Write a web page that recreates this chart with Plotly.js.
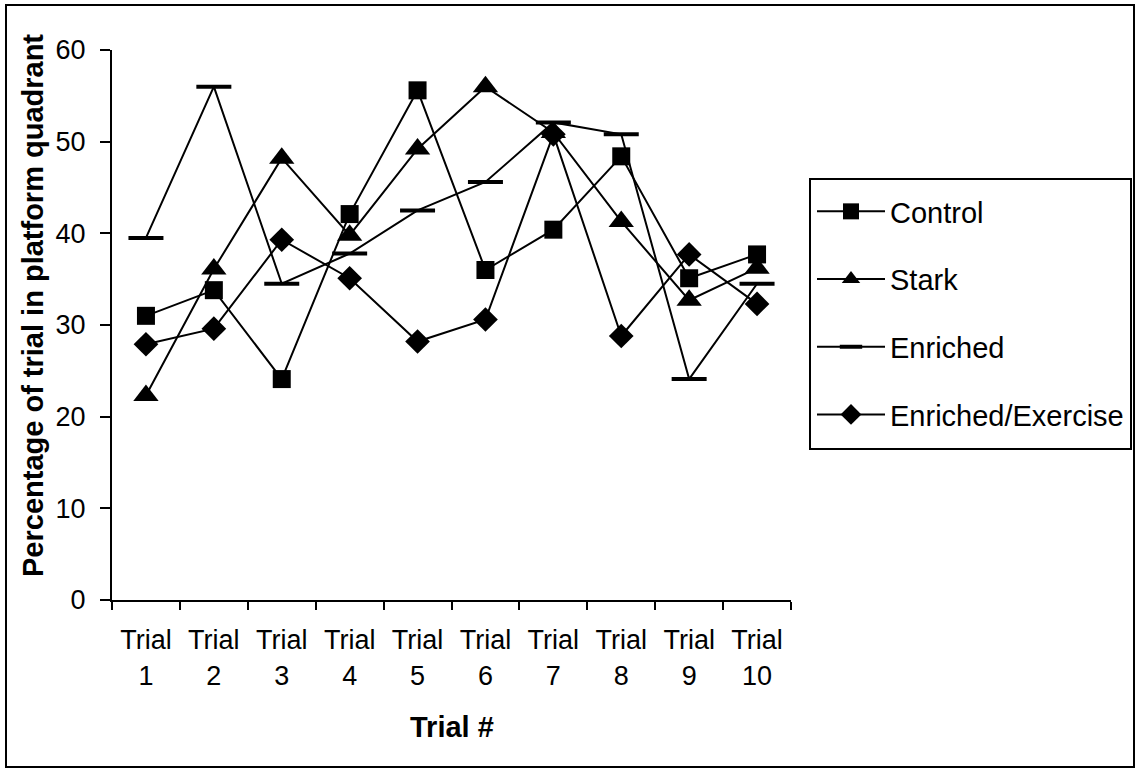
<!DOCTYPE html>
<html>
<head>
<meta charset="utf-8">
<script src="https://cdn.plot.ly/plotly-3.0.1.min.js"></script>
<style>
  html, body { margin: 0; padding: 0; background: #fff; }
  #chart { width: 1136px; height: 774px; }
</style>
</head>
<body>
<div id="chart"></div>
<script>
const categories = ["Trial 1", "Trial 2", "Trial 3", "Trial 4", "Trial 5", "Trial 6", "Trial 7", "Trial 8", "Trial 9", "Trial 10"];
const tickLabels = ["Trial<br>1", "Trial<br>2", "Trial<br>3", "Trial<br>4", "Trial<br>5", "Trial<br>6", "Trial<br>7", "Trial<br>8", "Trial<br>9", "Trial<br>10"];
const control = [31.0, 33.8, 24.1, 42.1, 55.6, 36.0, 40.4, 48.4, 35.1, 37.7];
const stark = [22.3, 36.1, 48.2, 39.8, 49.2, 56.0, 51.0, 41.3, 32.7, 36.2];
const enriched = [39.5, 56.0, 34.5, 37.8, 42.5, 45.6, 52.1, 50.8, 24.1, 34.5];
const enrichedExercise = [27.9, 29.6, 39.3, 35.1, 28.2, 30.6, 50.8, 28.8, 37.7, 32.3];
const seriesNames = ["Control", "Stark", "Enriched", "Enriched/Exercise"];
const yTicks = [0, 10, 20, 30, 40, 50, 60];

const FONT = "Arial, 'Liberation Sans', sans-serif";
const lineStyle = {color: "#000", width: 2};

const traces = [
  {name: seriesNames[0], y: control, marker: {symbol: "square", size: 18, color: "#000"}},
  {name: seriesNames[1], y: stark, marker: {symbol: "triangle-up", size: 22, color: "#000"}},
  {name: seriesNames[2], y: enriched, marker: {symbol: "line-ew", size: 25, color: "#000", line: {color: "#000", width: 4}}},
  {name: seriesNames[3], y: enrichedExercise, marker: {symbol: "diamond", size: 19, color: "#000"}}
].map((t, i) => Object.assign({
  type: "scatter",
  mode: "lines+markers",
  x: categories,
  line: lineStyle,
  legendgroup: "g" + i,
  hoverinfo: "skip"
}, t));

// plot area in pixels: x 112..791, y 50..600
const L = 112, R = 791, T = 50, B = 600;
const px2x = p => (p - L) / (R - L);
const px2y = p => (B - p) / (B - T);

const layout = {
  width: 1136,
  height: 774,
  margin: {l: L, r: 1136 - R, t: T, b: 774 - B, pad: 0},
  paper_bgcolor: "#fff",
  plot_bgcolor: "#fff",
  font: {family: FONT, color: "#000", size: 27},
  showlegend: true,
  legend: {
    xref: "container", yref: "container",
    x: 812 / 1136, xanchor: "left",
    y: 1 - 186 / 774, yanchor: "top",
    borderwidth: 0,
    bgcolor: "rgba(0,0,0,0)",
    font: {family: FONT, size: 29, color: "#000"},
    traceorder: "grouped",
    tracegroupgap: 27,
    itemwidth: 68
  },
  xaxis: {
    type: "category",
    categoryorder: "array",
    categoryarray: categories,
    tickvals: categories,
    ticktext: tickLabels,
    range: [-0.5, 9.5],
    tickson: "boundaries",
    ticks: "outside", ticklen: 8, tickwidth: 2, tickcolor: "#000",
    ticklabelstandoff: 15,
    showline: true, linecolor: "#000", linewidth: 2,
    showgrid: false, zeroline: false,
    tickfont: {family: FONT, size: 27, color: "#000"},
    fixedrange: true
  },
  yaxis: {
    range: [0, 60],
    tickvals: yTicks,
    ticks: "outside", ticklen: 10, tickwidth: 2, tickcolor: "#000",
    ticklabelstandoff: 9,
    showline: true, linecolor: "#000", linewidth: 2,
    showgrid: false, zeroline: false,
    tickfont: {family: FONT, size: 27, color: "#000"},
    fixedrange: true
  },
  annotations: [
    {text: "<b>Trial #</b>", xref: "paper", yref: "paper", x: 0.5, y: px2y(727),
     xanchor: "center", yanchor: "middle", showarrow: false,
     font: {family: FONT, size: 29, color: "#000"}},
    {text: "<b>Percentage of trial in platform quadrant</b>", xref: "paper", yref: "paper",
     x: px2x(33), y: px2y(306), textangle: -90,
     xanchor: "center", yanchor: "middle", showarrow: false,
     font: {family: FONT, size: 29, color: "#000"}}
  ],
  shapes: [
    {type: "rect", xref: "paper", yref: "paper",
     x0: px2x(6), x1: px2x(1134), y0: px2y(767), y1: px2y(5),
     line: {color: "#000", width: 2}, fillcolor: "rgba(0,0,0,0)", layer: "below"},
    {type: "rect", xref: "paper", yref: "paper",
     x0: px2x(810), x1: px2x(1131), y0: px2y(449), y1: px2y(179),
     line: {color: "#000", width: 2}, fillcolor: "rgba(0,0,0,0)", layer: "below"}
  ]
};

Plotly.newPlot("chart", traces, layout, {displayModeBar: false, staticPlot: true});
</script>
</body>
</html>
